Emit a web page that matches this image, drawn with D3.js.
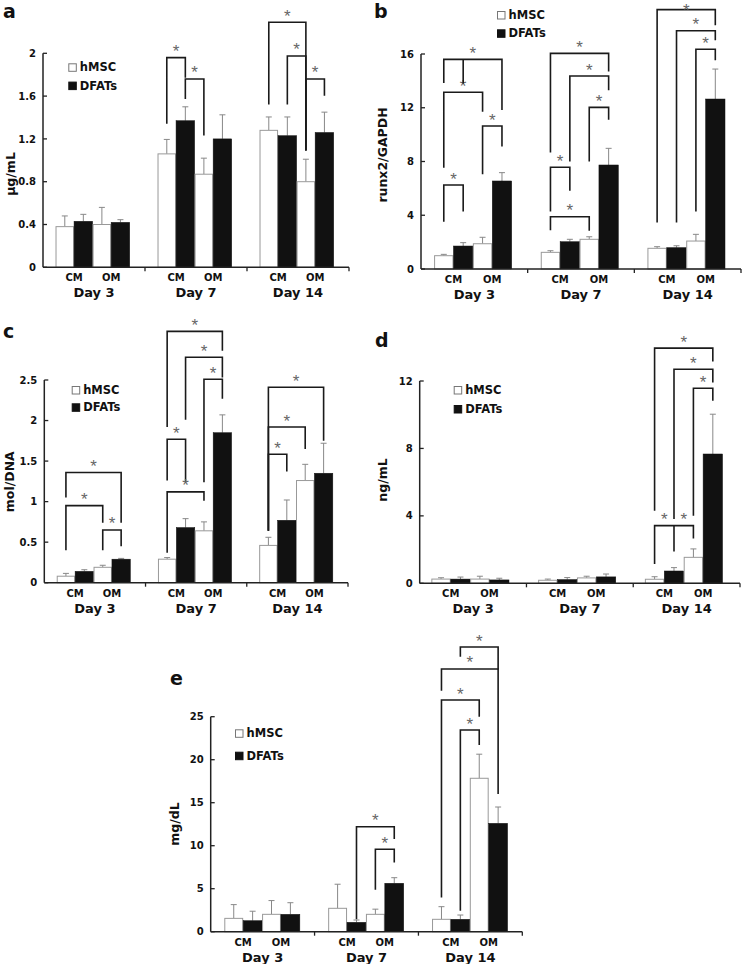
<!DOCTYPE html>
<html><head><meta charset="utf-8">
<script src="https://cdn.jsdelivr.net/npm/d3@7"></script>
<style>html,body{margin:0;padding:0;background:#fff}</style>
</head><body>
<svg id="fig" width="745" height="964"></svg>
<script>
// ---------- DATA ----------
const groups = ["Day 3", "Day 7", "Day 14"];
const media = ["CM", "OM"];
const cellTypes = ["hMSC", "DFATs"];
// bar order within a day: hMSC-CM, DFATs-CM, hMSC-OM, DFATs-OM
const barOrder = [0, 1, 2, 3];
const barCell = ["hMSC", "DFATs", "hMSC", "DFATs"];

// Panel a : µg/mL
const aTicks = [0, 0.4, 0.8, 1.2, 1.6, 2];
const aTickLabels = ["0", "0.4", "0.8", "1.2", "1.6", "2"];
const aMeans = [[0.38, 0.43, 0.40, 0.42], [1.06, 1.37, 0.87, 1.20], [1.28, 1.23, 0.80, 1.26]];
const aErrs  = [[0.10, 0.065, 0.16, 0.025], [0.135, 0.13, 0.15, 0.225], [0.125, 0.175, 0.21, 0.19]];
const aSig = [
  {g: 1, top: 1.96, legs: [[0, 1.35], [1, 1.78]], stars: [[0, 1]]},
  {g: 1, top: 1.76, legs: [[1, 1.58], [2, 1.24]], stars: [[0, 1]]},
  {g: 2, top: 2.29, legs: [[0, 1.53], [2, 1.10]], stars: [[0, 1]]},
  {g: 2, top: 1.975, legs: [[1, 1.53], [2, 1.10]], stars: [[0, 1]]},
  {g: 2, top: 1.76, legs: [[2, 1.10], [3, 1.61]], stars: [[0, 1]]}
];

// Panel b : runx2/GAPDH
const bTicks = [0, 4, 8, 12, 16];
const bTickLabels = ["0", "4", "8", "12", "16"];
const bMeans = [[0.99, 1.71, 1.88, 6.55], [1.24, 2.03, 2.21, 7.74], [1.54, 1.59, 2.08, 12.65]];
const bErrs  = [[0.10, 0.25, 0.48, 0.62], [0.12, 0.18, 0.19, 1.24], [0.12, 0.14, 0.50, 2.23]];
const bSig = [
  {g: 0, top: 6.25, legs: [[0, 3.57], [1, 4.34]], stars: [[0, 1]]},
  {g: 0, top: 10.64, legs: [[2, 7.12], [3, 9.17]], stars: [[0, 1]]},
  {g: 0, top: 13.15, legs: [[0, 7.6], [2, 11.76]], stars: [[0, 1]]},
  {g: 0, top: 15.6, legs: [[0, 13.9], [1, 13.86], [3, 11.9]], stars: [[0, 2]]},
  {g: 1, top: 7.57, legs: [[0, 4.34], [1, 5.88]], stars: [[0, 1]]},
  {g: 1, top: 3.89, legs: [[0, 2.95], [2, 2.9]], stars: [[0, 1]]},
  {g: 1, top: 12.03, legs: [[2, 8.06], [3, 11.16]], stars: [[0, 1]]},
  {g: 1, top: 14.36, legs: [[1, 8.06], [3, 13.37]], stars: [[0, 1]]},
  {g: 1, top: 16.05, legs: [[0, 8.73], [3, 14.75]], stars: [[0, 1]]},
  {g: 2, top: 16.35, legs: [[2, 4.34], [3, 15.6]], stars: [[0, 1]]},
  {g: 2, top: 17.73, legs: [[1, 3.52], [3, 17.09]], stars: [[0, 1]]},
  {g: 2, top: 19.3, legs: [[0, 3.52], [3, 18.2]], stars: [[0, 1]]}
];

// Panel c : mol/DNA
const cTicks = [0, 0.5, 1, 1.5, 2, 2.5];
const cTickLabels = ["0", "0.5", "1", "1.5", "2", "2.5"];
const cMeans = [[0.08, 0.14, 0.19, 0.29], [0.29, 0.68, 0.64, 1.85], [0.46, 0.77, 1.26, 1.35]];
const cErrs  = [[0.035, 0.02, 0.025, 0.01], [0.02, 0.11, 0.11, 0.22], [0.10, 0.25, 0.20, 0.37]];
const cSig = [
  {g: 0, top: 0.65, legs: [[2, 0.41], [3, 0.46]], stars: [[0, 1]]},
  {g: 0, top: 0.95, legs: [[0, 0.41], [2, 0.75]], stars: [[0, 1]]},
  {g: 0, top: 1.36, legs: [[0, 1.06], [3, 0.75]], stars: [[0, 1]]},
  {g: 1, top: 1.77, legs: [[0, 1.27], [1, 1.25]], stars: [[0, 1]]},
  {g: 1, top: 1.12, legs: [[0, 0.38], [2, 1.02]], stars: [[0, 1]]},
  {g: 1, top: 2.78, legs: [[1, 2.02], [3, 2.54]], stars: [[0, 1]]},
  {g: 1, top: 2.51, legs: [[2, 1.25], [3, 2.28]], stars: [[0, 1]]},
  {g: 1, top: 3.10, legs: [[0, 1.93], [3, 2.87]], stars: [[0, 1]]},
  {g: 2, top: 1.585, legs: [[0, 0.65], [1, 1.38]], stars: [[0, 1]]},
  {g: 2, top: 1.92, legs: [[0, 0.65], [2, 1.66]], stars: [[0, 1]]},
  {g: 2, top: 2.41, legs: [[0, 0.65], [3, 1.76]], stars: [[0, 1]]}
];

// Panel d : ng/mL
const dTicks = [0, 4, 8, 12];
const dTickLabels = ["0", "4", "8", "12"];
const dMeans = [[0.25, 0.25, 0.25, 0.20], [0.18, 0.22, 0.32, 0.38], [0.24, 0.73, 1.54, 7.67]];
const dErrs  = [[0.08, 0.12, 0.17, 0.10], [0.07, 0.12, 0.10, 0.17], [0.15, 0.20, 0.50, 2.36]];
const dSig = [
  {g: 2, top: 3.42, legs: [[0, 1.19], [1, 1.93], [2, 2.7]], stars: [[0, 1], [1, 2]]},
  {g: 2, top: 11.57, legs: [[2, 4.05], [3, 10.88]], stars: [[0, 1]]},
  {g: 2, top: 12.7, legs: [[1, 3.86], [3, 11.96]], stars: [[0, 1]]},
  {g: 2, top: 13.95, legs: [[0, 4.35], [3, 13.2]], stars: [[0, 1]]}
];

// Panel e : mg/dL
const eTicks = [0, 5, 10, 15, 20, 25];
const eTickLabels = ["0", "5", "10", "15", "20", "25"];
const eMeans = [[1.55, 1.28, 2.02, 2.02], [2.72, 1.09, 2.02, 5.63], [1.44, 1.44, 17.84, 12.6]];
const eErrs  = [[1.6, 1.1, 1.6, 1.35], [2.8, 0.27, 0.6, 0.65], [1.47, 0.5, 2.8, 1.9]];
const eSig = [
  {g: 1, top: 9.58, legs: [[2, 4.97], [3, 8.14]], stars: [[0, 1]]},
  {g: 1, top: 12.2, legs: [[1, 1.55], [3, 10.86]], stars: [[0, 1]]},
  {g: 2, top: 23.45, legs: [[1, 2.52], [2, 21.8]], stars: [[0, 1]]},
  {g: 2, top: 26.94, legs: [[0, 4.07], [2, 25.08]], stars: [[0, 1]]},
  {g: 2, top: 30.55, legs: [[0, 28.1], [3, 16.1]], stars: [[0, 1]]},
  {g: 2, top: 33.1, legs: [[1, 32.06], [3, 30.6]], stars: [[0, 1]]}
];

// ---------- LAYOUT ----------
const FONT = "'DejaVu Sans', Verdana, sans-serif";
const FONT2 = "'Liberation Sans', Arial, sans-serif";
const panels = [
  {letter: "a", ylab: "\u03bcg/mL", ticks: aTicks, tl: aTickLabels, means: aMeans, errs: aErrs, sig: aSig,
   x0: 43, x1: 349, y0: 267.3, yTop: 53.3, align: 0.45, L: [3, 18], YL: [10, 174], LG: [68.3, 63.3, 18.3]},
  {letter: "b", ylab: "runx2/GAPDH", ticks: bTicks, tl: bTickLabels, means: bMeans, errs: bErrs, sig: bSig,
   x0: 421, x1: 741, y0: 269, yTop: 54, align: 0.45, L: [374, 18], YL: [382, 155], LG: [497, 11, 18.3]},
  {letter: "c", ylab: "mol/DNA", ticks: cTicks, tl: cTickLabels, means: cMeans, errs: cErrs, sig: cSig,
   x0: 44.3, x1: 348, y0: 582.7, yTop: 380, align: 0.45, L: [3, 338], YL: [9, 481.7], LG: [71.7, 386, 17.3]},
  {letter: "d", ylab: "ng/mL", ticks: dTicks, tl: dTickLabels, means: dMeans, errs: dErrs, sig: dSig,
   x0: 419.7, x1: 740, y0: 583.3, yTop: 381, align: 0.4, L: [375, 347], YL: [382, 480], LG: [453.7, 386, 19]},
  {letter: "e", ylab: "mg/dL", ticks: eTicks, tl: eTickLabels, means: eMeans, errs: eErrs, sig: eSig,
   x0: 210.7, x1: 522.3, y0: 931.7, yTop: 716.7, align: 0.48, L: [170, 685], YL: [174.5, 824], LG: [235, 729.3, 22.4]}
];

const svg = d3.select("#fig");

panels.forEach(p => {
  const top = p.ticks[p.ticks.length - 1];
  const y = d3.scaleLinear().domain([0, top]).range([p.y0, p.yTop]);
  const xg = d3.scaleBand().domain(groups).range([p.x0, p.x1]).padding(0);
  const xb = d3.scaleBand().domain(barOrder).range([0, xg.bandwidth()])
    .paddingInner(0).paddingOuter(0.75).align(p.align);
  const g = svg.append("g");
  const barX = (gi, bi) => xg(groups[gi]) + xb(bi);
  const barC = (gi, bi) => barX(gi, bi) + xb.bandwidth() / 2;

  // panel letter
  g.append("text").attr("x", p.L[0]).attr("y", p.L[1]).text(p.letter)
    .attr("font-family", FONT).attr("font-weight", "bold").attr("font-size", 19).attr("fill", "#111");

  // y label
  g.append("text").attr("transform", `translate(${p.YL[0] + 4.5},${p.YL[1]}) rotate(-90)`)
    .attr("text-anchor", "middle").text(p.ylab)
    .attr("font-family", FONT).attr("font-weight", "bold").attr("font-size", 12.5).attr("fill", "#111");

  // bars
  p.means.forEach((row, gi) => {
    row.forEach((v, bi) => {
      const x = barX(gi, bi), w = xb.bandwidth();
      const isD = barCell[bi] === "DFATs";
      const cx = x + w / 2, ye = y(v + p.errs[gi][bi]);
      g.append("line").attr("x1", cx).attr("x2", cx).attr("y1", y(v)).attr("y2", ye)
        .attr("stroke", "#888").attr("stroke-width", 1);
      g.append("line").attr("x1", cx - 3).attr("x2", cx + 3).attr("y1", ye).attr("y2", ye)
        .attr("stroke", "#888").attr("stroke-width", 1);
      g.append("rect").attr("x", x + (isD ? 0 : 0.5)).attr("y", y(v))
        .attr("width", w - (isD ? 0 : 1)).attr("height", p.y0 - y(v))
        .attr("fill", isD ? "#111" : "#fff")
        .attr("stroke", isD ? "#111" : "#999").attr("stroke-width", isD ? 0.5 : 1);
    });
  });

  // y axis
  g.append("line").attr("x1", p.x0).attr("x2", p.x0).attr("y1", p.y0).attr("y2", y(top))
    .attr("stroke", "#222").attr("stroke-width", 1.5);
  p.ticks.forEach((t, i) => {
    g.append("line").attr("x1", p.x0).attr("x2", p.x0 + 4).attr("y1", y(t)).attr("y2", y(t))
      .attr("stroke", "#222").attr("stroke-width", 1.3);
    g.append("text").attr("x", p.x0 - 7).attr("y", y(t) + 3.6).attr("text-anchor", "end")
      .text(p.tl[i]).attr("font-family", FONT).attr("font-weight", "bold")
      .attr("font-size", 10).attr("fill", "#111");
  });

  // x axis
  g.append("line").attr("x1", p.x0).attr("x2", p.x1).attr("y1", p.y0).attr("y2", p.y0)
    .attr("stroke", "#222").attr("stroke-width", 1.5);
  [groups[1], groups[2]].forEach(d => {
    g.append("line").attr("x1", xg(d)).attr("x2", xg(d)).attr("y1", p.y0).attr("y2", p.y0 + 4)
      .attr("stroke", "#222").attr("stroke-width", 1.3);
  });
  g.append("line").attr("x1", p.x1).attr("x2", p.x1).attr("y1", p.y0).attr("y2", p.y0 + 4)
    .attr("stroke", "#222").attr("stroke-width", 1.3);

  groups.forEach((d, gi) => {
    media.forEach((m, mi) => {
      const xm = barX(gi, mi * 2 + 1);
      g.append("text").attr("x", xm).attr("y", p.y0 + 14).attr("text-anchor", "middle").text(m)
        .attr("font-family", FONT).attr("font-weight", "bold").attr("font-size", 10).attr("fill", "#111");
    });
    g.append("text").attr("x", xg(d) + xg.bandwidth() / 2).attr("y", p.y0 + 30)
      .attr("text-anchor", "middle").text(d)
      .attr("font-family", FONT).attr("font-weight", "bold").attr("font-size", 13).attr("fill", "#111");
  });

  // significance brackets
  p.sig.forEach(s => {
    const xs = s.legs.map(l => barC(s.g, l[0]));
    const yt = y(s.top);
    const xmin = d3.min(xs), xmax = d3.max(xs);
    let path = `M${xmin},${yt}H${xmax}`;
    s.legs.forEach((l, i) => { path += `M${xs[i]},${yt}V${y(l[1])}`; });
    g.append("path").attr("d", path).attr("fill", "none").attr("stroke", "#1a1a1a")
      .attr("stroke-width", 1.6).attr("stroke-linecap", "square");
    s.stars.forEach(pr => {
      const sx = (xs[pr[0]] + xs[pr[1]]) / 2;
      const sy = Math.max(yt - 0.5, 16);
      g.append("text").attr("x", sx).attr("y", sy).attr("text-anchor", "middle").text("*")
        .attr("font-family", FONT2).attr("font-size", 17).attr("fill", "#666");
    });
  });

  // legend
  cellTypes.forEach((c, i) => {
    const ly = p.LG[1] + i * p.LG[2];
    g.append("rect").attr("x", p.LG[0] + 0.5).attr("y", ly + 0.5).attr("width", 7.5).attr("height", 7.5)
      .attr("fill", c === "DFATs" ? "#111" : "#fff").attr("stroke", c === "DFATs" ? "#111" : "#777")
      .attr("stroke-width", 1);
    g.append("text").attr("x", p.LG[0] + 11.5).attr("y", ly + 8).text(c)
      .attr("font-family", FONT).attr("font-weight", "bold").attr("font-size", 11.5).attr("fill", "#111");
  });
});
</script>
</body></html>
